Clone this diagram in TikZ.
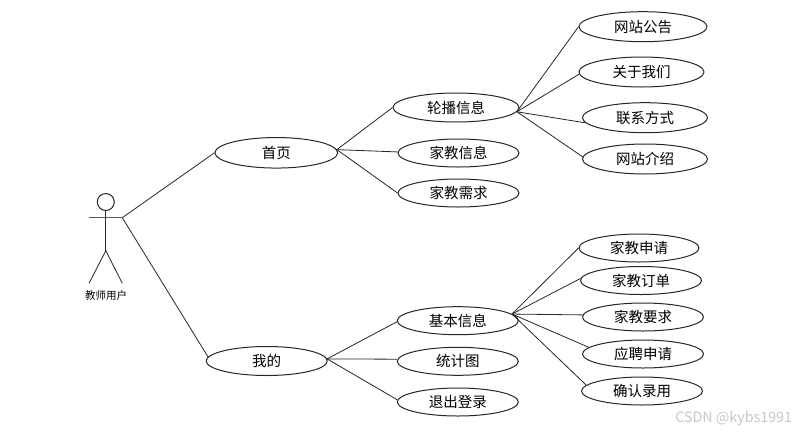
\documentclass[tikz,border=0pt]{standalone}
\usepackage{fontspec}
\setmainfont{Noto Sans CJK SC}
\usetikzlibrary{shapes.geometric}
\tikzset{
	uc/.style={draw=black!85,shape=ellipse,inner sep=0pt,font=\fontsize{14.5}{16}\selectfont,line width=1pt,minimum width=121,minimum height=28},
	lnk/.style={line width=0.8pt,draw=black!85},
}
\begin{document}
\begin{tikzpicture}[x=1pt,y=-1pt]
	\useasboundingbox (0,0) rectangle (811,434);
	% actor
	\node[draw=black!85,shape=circle,inner sep=0pt,minimum size=17,line width=1pt] (HD) at (105.8,202) {};
	\coordinate (AL) at (89,217.7);
	\coordinate (AR) at (122.3,217.7);
	\coordinate (HP) at (105.8,250.7);
	\coordinate (FL) at (89,283.3);
	\coordinate (FR) at (122.3,283.3);
	\draw[lnk] (HD)--(HP);
	\draw[lnk,line width=1.2pt,draw=black!65] (AL)--(AR);
	\draw[lnk] (FL)--(HP)--(FR);
	\node[font=\fontsize{10.5}{12}\selectfont,inner sep=0pt] (AT) at (106,296) {教师用户};

	\node[uc,minimum width=122.7,minimum height=30.5] (SY) at (276.3,152.8) {首页};
	\node[uc,minimum height=29] (WD) at (266.7,361) {我的};

	\node[uc,minimum width=126,minimum height=29] (LB) at (456,107.5) {轮播信息};
	\node[uc] (XX) at (458.5,153) {家教信息};
	\node[uc] (XQ) at (458.5,193) {家教需求};
	\node[uc] (JB) at (457.8,320.7) {基本信息};
	\node[uc] (TJ) at (457.8,361.3) {统计图};
	\node[uc] (TC) at (457.8,402) {退出登录};

	\node[uc,minimum width=128,minimum height=30] (GG) at (643,26.7) {网站公告};
	\node[uc,minimum width=125,minimum height=30] (GY) at (641.5,72) {关于我们};
	\node[uc,minimum width=125,minimum height=30] (LX) at (645,117.7) {联系方式};
	\node[uc,minimum width=125,minimum height=30] (JS) at (645,159) {网站介绍};

	\node[uc,minimum width=120] (SQ) at (639,248) {家教申请};
	\node[uc] (DD) at (641,280.5) {家教订单};
	\node[uc] (YQ) at (643,317) {家教要求};
	\node[uc] (YP) at (643,354) {应聘申请};
	\node[uc] (QR) at (642,391) {确认录用};

	\draw[lnk] (AR)--(SY.west);
	\draw[lnk] (AR)--(WD.176);

	\draw[lnk] (SY.3)--(LB.west);
	\draw[lnk] (SY.3)--(XX.179);
	\draw[lnk] (SY.3)--(XQ.west);
	\draw[lnk] (WD.2)--(JB.181);
	\draw[lnk] (WD.2)--(TJ.178);
	\draw[lnk] (WD.2)--(TC.178);

	\draw[lnk] (LB.-4)--(GG.west);
	\draw[lnk] (LB.-4)--(GY.182);
	\draw[lnk] (LB.-4)--(LX.185);
	\draw[lnk] (LB.-4)--(JS.178);

	\draw[lnk] (JB.7)--(SQ.west);
	\draw[lnk] (JB.7)--(DD.178);
	\draw[lnk] (JB.7)--(YQ.178);
	\draw[lnk] (JB.7)--(YP.173);
	\draw[lnk] (JB.7)--(QR.174);

	\node[text=black!22,font=\fontsize{14.3}{16}\selectfont,inner sep=0pt] (WM) at (733.7,418) {CSDN @kybs1991};
\end{tikzpicture}
\end{document}
